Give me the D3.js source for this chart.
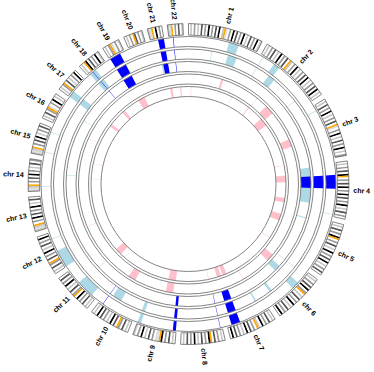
<!DOCTYPE html>
<html><head><meta charset="utf-8">
<script src="https://cdn.jsdelivr.net/npm/d3@7/dist/d3.min.js"></script>
<style>html,body{margin:0;padding:0;background:#fff}svg{display:block}</style>
</head><body>
<svg id="chart" width="374" height="372"></svg>
<script>
// ---------- DATA ----------
const chromNames = ["chr 1","chr 2","chr 3","chr 4","chr 5","chr 6","chr 7","chr 8","chr 9","chr 10","chr 11",
  "chr 12","chr 13","chr 14","chr 15","chr 16","chr 17","chr 18","chr 19","chr 20","chr 21","chr 22"];
const chromLengthsMb = [249.25,243.2,198.0,191.15,180.9,171.1,159.1,146.4,141.2,135.5,135.0,
  133.85,115.2,107.35,102.5,90.35,81.2,78.1,59.1,63.0,48.1,51.3];
// cytoband stains, equal-width bands along each chromosome (0 gneg,1 gpos25,2 gpos50,3 gpos75,4 gpos100,v gvar,c acen)
const cytobands = [
  "01020103020402030401cv02040302040103020401",
  "010203010402030c102040102030401020304010",
  "010302040102030cv0204010302040102",
  "01020304c02030402040302040103020",
  "01030204c020301040203040102030",
  "0102030402c01030204010302040",
  "0103020401c020304010203040",
  "0102030c4020301040203010",
  "01030204cvv020301040201",
  "010302c030401020304010",
  "010302040c203010402030",
  "010302c030204010302040",
  "1v1c020403020401030",
  "1v1c02030402010302",
  "1v1c0203040102030",
  "010302cv0204010",
  "0102c030102040",
  "010c403020401",
  "0102cv0201",
  "01020c30201",
  "1vc04020",
  "1vc020301"
];
// track segments: [chromosome number, start Mb, end Mb, class]
const track1 = [[1,146,182,"low"],[2,10,12,"low"],[2,56,79,"low"],[3,18,20,"low"],[4,43,92,"high"],[4,183,185,"low"],
  [6,50,77,"low"],[7,111,143,"high"],[8,6,7.5,"high"],[9,1,12,"high"],[9,128,141,"low"],[10,119.5,121,"high"],
  [11,17,81,"low"],[12,0,64,"low"],[12,109,111,"low"],[14,14,16,"low"],[15,12,14,"low"],[15,86,88,"low"],
  [17,0,25,"low"],[18,8,35,"low"],[18,21,22.5,"high"],[19,2,42,"high"],[21,27,48,"high"],[22,14,16,"high"]];
const track2 = [[1,90,92,"low"],[1,155,191,"low"],[2,8,10,"low"],[2,65,93,"low"],[2,206,208,"low"],[4,43,92,"high"],
  [6,13,15,"low"],[6,140,150,"low"],[7,24,30,"low"],[7,111,143,"high"],[8,6,7.5,"high"],[9,1,12,"high"],
  [9,128,141,"low"],[10,70,107,"low"],[10,119.5,121,"high"],[17,0,25,"low"],[18,8,35,"low"],[18,21,22.5,"high"],
  [19,2,42,"high"],[21,27,48,"high"],[22,14,16,"high"]];
const track3 = [[4,5,156,"low"],[4,43,92,"high"],[5,11,15,"low"],[6,13,15,"low"],[6,50,77,"low"],[7,111,143,"high"],
  [8,6,7.5,"high"],[9,1,12,"high"],[11,71,73,"low"],[14,61,63,"low"],[16,61,63,"low"],[18,21,22.5,"high"],
  [19,2,42,"high"],[21,20,27,"low"],[21,27,48,"high"],[22,14,16,"high"]];
const track4 = [[1,159,169,"pink"],[2,85,87,"pink"],[2,142,188,"pink"],[3,73,110,"pink"],[6,31,68,"pink"],
  [7,24,26,"pink"],[9,29,65,"pink"],[10,61,97,"pink"],[12,100,102,"pink"],[16,0,2,"pink"]];
const track5 = [[1,13,15,"pink"],[1,242,244,"pink"],[2,79,84,"pink"],[2,170,215,"pink"],[3,190,192,"pink"],
  [4,30,66,"pink"],[4,150,175,"pink"],[5,30,67,"pink"],[5,170,172,"pink"],[7,88,111,"pink"],[7,120,143,"pink"],
  [8,11,13,"pink"],[9,24,65,"pink"],[11,16,18,"pink"],[11,44,80,"pink"],[14,51,53,"pink"],[15,8,10,"pink"],
  [17,0,16,"pink"],[18,0,17,"pink"],[19,12,49,"pink"],[21,36,48,"pink"],[22,24,30,"pink"]];

// ---------- LAYOUT / STYLE ----------
const cx = 188.5, cy = 184;
const gapMb = 18.24;
const ideoInner = 149, ideoOuter = 160.5, labelR = 165;
const trackRadii = [[137.5,147.5],[125,135],[112.5,122.5],[100,110],[87.5,97.5]];
const tracks = [track1, track2, track3, track4, track5];
const stainColor = {"0":"#ffffff","1":"#c8c8c8","2":"#9a9a9a","3":"#555555","4":"#000000","v":"#dcdcdc","c":"#ffa500"};
const classColor = {high:"#0000ff", low:"#add8e6", pink:"#ffc0cb"};

const svg = d3.select("#chart");
const g = svg.append("g").attr("transform", `translate(${cx},${cy})`);

const offsets = [];
let acc = 0;
chromLengthsMb.forEach((len, i) => { offsets.push(acc); acc += len + gapMb; });
const total = acc;
const angle = d3.scaleLinear().domain([0, total]).range([0, 2 * Math.PI]);
const pos = (chr, mb) => angle(offsets[chr - 1] + mb);

const arc = d3.arc();

// track segments
tracks.forEach((tr, ti) => {
  const [r0, r1] = trackRadii[ti];
  g.append("g").selectAll("path").data(tr).join("path")
    .attr("d", d => arc({innerRadius: r0, outerRadius: r1, startAngle: pos(d[0], d[1]), endAngle: pos(d[0], d[2])}))
    .attr("fill", d => classColor[d[3]]);
});

// track circles
trackRadii.forEach(([r0, r1]) => {
  [r0, r1].forEach(r => g.append("circle").attr("r", r).attr("fill", "none").attr("stroke", "#777").attr("stroke-width", 0.9));
});

// ideogram
chromLengthsMb.forEach((len, i) => {
  const bands = cytobands[i];
  const n = bands.length;
  const cg = g.append("g");
  cg.selectAll("path").data(bands.split("")).join("path")
    .attr("d", (s, j) => arc({innerRadius: ideoInner, outerRadius: ideoOuter,
      startAngle: pos(i + 1, len * j / n), endAngle: pos(i + 1, len * (j + 1) / n)}))
    .attr("fill", s => stainColor[s]);
  cg.append("path")
    .attr("d", arc({innerRadius: ideoInner, outerRadius: ideoOuter, startAngle: pos(i + 1, 0), endAngle: pos(i + 1, len)}))
    .attr("fill", "none").attr("stroke", "#666").attr("stroke-width", 0.8);
});

// labels
chromNames.forEach((name, i) => {
  const a = pos(i + 1, chromLengthsMb[i] / 2) * 180 / Math.PI;
  const right = a < 180;
  g.append("text")
    .attr("transform", right ? `rotate(${a - 90}) translate(${labelR},0)` : `rotate(${a + 90}) translate(${-labelR},0)`)
    .attr("text-anchor", right ? "start" : "end")
    .attr("dy", "0.35em")
    .attr("font-family", "Liberation Sans, Arial, sans-serif")
    .attr("font-weight", "bold")
    .attr("font-size", 7)
    .attr("fill", "#000")
    .text(name);
});
</script>
</body></html>
